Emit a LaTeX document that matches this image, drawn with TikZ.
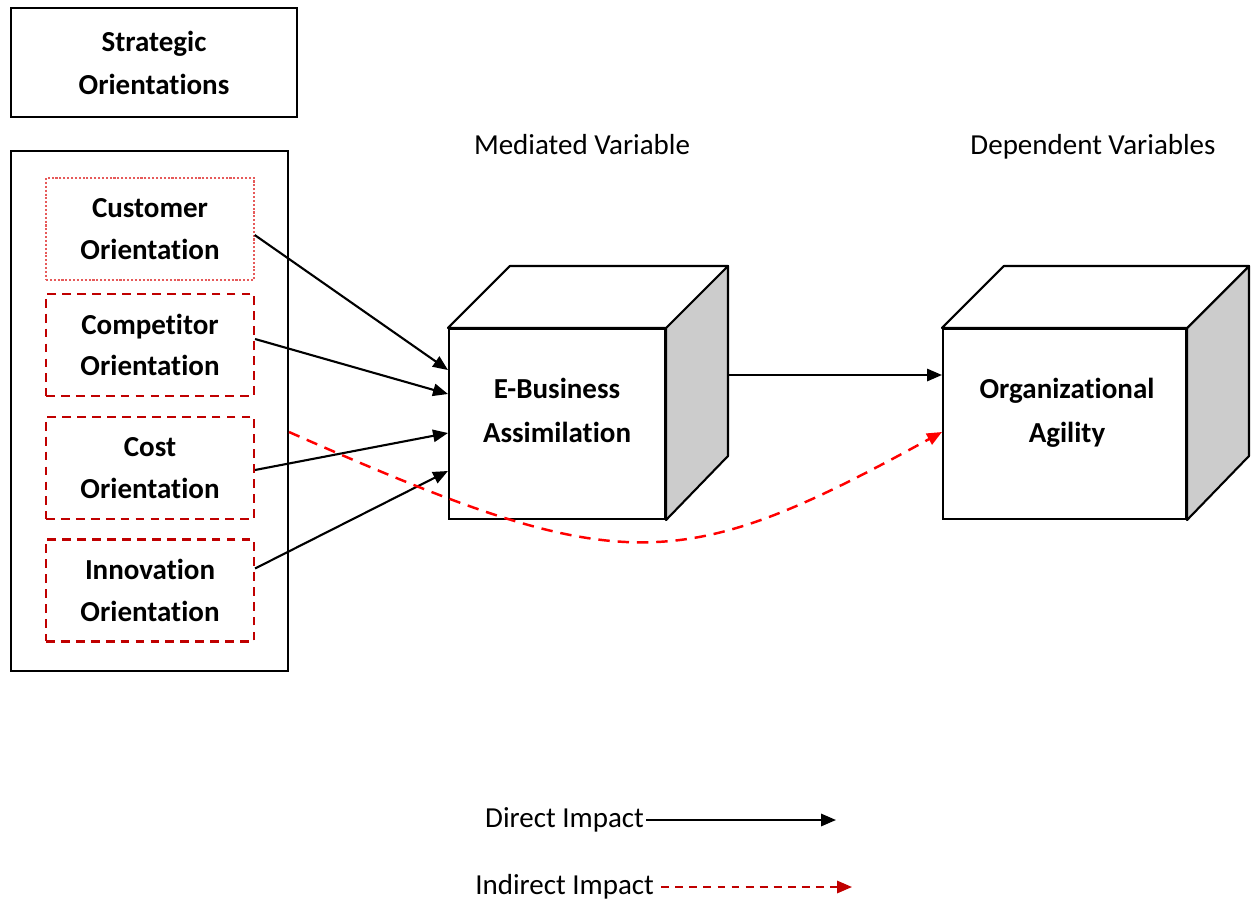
\documentclass[tikz,border=0pt]{standalone}
\usepackage{fontspec}
\setmainfont{Carlito}[Ligatures=NoCommon]
\usepackage{xcolor}
\definecolor{sidegray}{gray}{.8}
\definecolor{darkred}{RGB}{192,0,0}
\definecolor{lightred}{RGB}{230,90,90}
\definecolor{brightred}{RGB}{255,0,0}
\usetikzlibrary{arrows.meta}
\newcommand{\txt}{\fontsize{16.5}{23.5}\selectfont}
\newcommand{\cubetxt}{\fontsize{16.5}{25}\selectfont}
\tikzset{
    frame/.style={draw, line width=1.2pt, rectangle, align=center, font=\txt\bfseries},
    orient/.style={frame, minimum width=4.16cm, minimum height=2.04cm, draw=darkred, dashed, dash pattern=on 5pt off 3.5pt},
    face/.style={draw, line width=1.2pt, fill=white, minimum height=3.8cm},
    facetext/.style={align=center, font=\cubetxt\bfseries},
    cubeedge/.style={draw, line width=1.2pt, line join=round},
    label/.style={font=\txt, inner sep=1pt},
    impact/.style={-{Triangle[length=8.5pt, width=7pt]}, line width=1.2pt},
    indirect/.style={impact, line width=1.4pt, dashed, dash pattern=on 6.5pt off 4.5pt}
}

\begin{document}
\begin{tikzpicture}[x=0.02cm, y=-0.02cm]
    \useasboundingbox (0,0) rectangle (1257,902);

    % left column
    \node[frame, minimum width=5.72cm, minimum height=2.18cm, font=\fontsize{16.5}{24.5}\selectfont\bfseries] (so) at (154,62.5) {Strategic\\Orientations};
    \node[draw, line width=1.2pt, minimum width=5.54cm, minimum height=10.4cm] (group) at (149.5,411) {};
    \node[orient, draw=lightred, solid, densely dotted, line width=0.8pt] (cust) at (150,229) {Customer\\Orientation};
    \node[orient] (comp) at (150,345) {Competitor\\Orientation};
    \node[orient] (cost) at (150,468) {Cost\\Orientation};
    \node[orient] (innov) at (150,590.5) {Innovation\\Orientation};

    % cubes
    \node[label, anchor=base] (medlabel) at (582,155) {Mediated Variable};
    \node[label, anchor=base] (deplabel) at (1093,155) {Dependent Variables};
    \node[face, minimum width=4.32cm] (eb) at (557,424) {};
    \node[face, minimum width=4.86cm] (oa) at (1064.5,424) {};
    \foreach \c in {eb,oa} {
        \draw[cubeedge, fill=sidegray] (\c.north east) -- ++(62,-62) -- ++(0,190) -- (\c.south east) -- cycle;
        \draw[cubeedge, fill=white] (\c.north west) -- ++(62,-62) -- ([shift={(62,-62)}]\c.north east) -- (\c.north east) -- cycle;
    }
    \node[facetext] (ebtext) at ([yshift=0.28cm]eb.center) {E-Business\\Assimilation};
    \node[facetext] (oatext) at ([xshift=0.05cm, yshift=0.22cm]oa.center) {Organizational\\Agility};

    % connectors
    \draw[impact] ([yshift=-0.12cm]cust.east) -- ([yshift=1.08cm]eb.west);
    \draw[impact] ([yshift=0.12cm]comp.east) -- ([yshift=0.6cm]eb.west);
    \draw[impact] ([yshift=-0.04cm]cost.east) -- ([yshift=-0.18cm]eb.west);
    \draw[impact] ([yshift=0.44cm]innov.east) -- ([yshift=-0.94cm]eb.west);
    \draw[impact] ([xshift=1.24cm, yshift=0.98cm]eb.east) -- ([yshift=0.98cm]oa.west);
    \draw[indirect, brightred] ([yshift=-0.42cm]group.east) .. controls (620,578) and (676,578) .. ([yshift=-0.16cm]oa.west);

    % legend
    \node[label, anchor=east] (direct) at (646,820) {Direct Impact};
    \coordinate (directend) at (836,821);
    \draw[impact] (direct.east) -- (direct.east -| directend);
    \node[label, anchor=east] (indir) at (656,887) {Indirect Impact};
    \coordinate (indirend) at (852,887);
    \draw[indirect, darkred, line width=1.2pt, dash pattern=on 4.5pt off 3.5pt] ([xshift=3pt]indir.east) -- (indir.east -| indirend);
\end{tikzpicture}
\end{document}
